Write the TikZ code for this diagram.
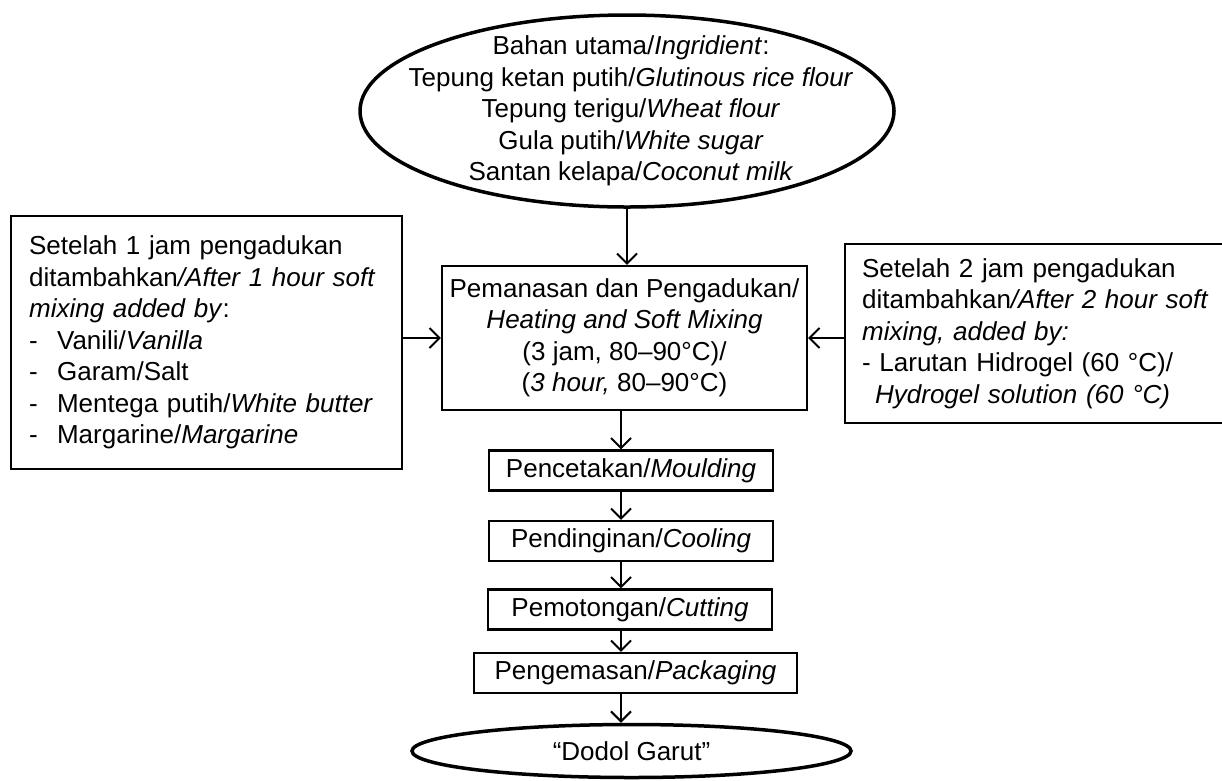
\documentclass[tikz,border=0pt]{standalone}
\usepackage{fontspec}
\setmainfont{Liberation Sans}
\usetikzlibrary{shapes.geometric,arrows.meta}

\begin{document}
\begin{tikzpicture}[
		x=1pt, y=-1pt,
		every node/.style={font=\fontsize{26}{31.5}\selectfont},
		stepbox/.style={draw, line width=2.2pt, minimum width=284pt, minimum height=40pt, inner sep=0pt},
		sidebox/.style={draw, line width=2.2pt, anchor=north west, align=left, inner ysep=0pt},
		oval/.style={draw, ellipse, line width=3.5pt, inner sep=0pt},
		flow/.style={line width=2pt, -{Straight Barb[length=10pt,width=20pt]}}
		]
		\useasboundingbox (0,0) rectangle (1222,780);
		% bahan utama
		\node[oval, minimum width=534pt, minimum height=192pt] (ingr) at (627,111) {};
		\node[align=center] (ingrtext) at (631,111) {Bahan utama/\textit{Ingridient}:\\
			Tepung ketan putih/\textit{Glutinous rice flour}\\
			Tepung terigu/\textit{Wheat flour}\\
			Gula putih/\textit{White sugar}\\
			Santan kelapa/\textit{Coconut milk}};
		% proses utama
		\node[draw, line width=2.2pt, minimum width=365pt, minimum height=144pt, inner sep=0pt, align=center] (heat) at (624.5,338)
			{Pemanasan dan Pengadukan/\\ \textit{Heating and Soft Mixing}\\ (3 jam, 80--90°C)/\\ (\textit{3 hour,} 80--90°C)};
		% tambahan
		\node[sidebox, text width=355pt, inner xsep=18pt, minimum height=253pt] (after1) at (10,215)
			{Setelah 1 jam pengadukan\\
			ditambahkan\textit{/After 1 hour soft}\\
			\textit{mixing added by}:\\
			\makebox[28pt][l]{-}Vanili/\textit{Vanilla}\\
			\makebox[28pt][l]{-}Garam/Salt\\
			\makebox[28pt][l]{-}Mentega putih/\textit{White butter}\\
			\makebox[28pt][l]{-}Margarine/\textit{Margarine}};
		\node[sidebox, text width=362pt, inner xsep=17pt, minimum height=179pt] (after2) at (844,243)
			{Setelah 2 jam pengadukan\\
			ditambahkan\textit{/After 2 hour soft}\\
			\textit{mixing, added by:}\\
			- Larutan Hidrogel (60 °C)/\\
			\hspace{13pt}\textit{Hydrogel solution (60 °C)}};
		% tahap akhir
		\node[stepbox] (mould) at (631,470.5) {Pencetakan/\textit{Moulding}};
		\node[stepbox] (cool) at (631,541) {Pendinginan/\textit{Cooling}};
		\node[stepbox] (cut) at (630,609.5) {Pemotongan/\textit{Cutting}};
		\node[stepbox, minimum width=323pt] (pack) at (635.5,673) {Pengemasan/\textit{Packaging}};
		\node[oval, minimum width=439pt, minimum height=53pt] (dodol) at (631.5,751) {``Dodol Garut''};
		\coordinate (spine) at (621,0);
		% panah
		\draw[flow] (ingr.south) -- (ingr.south |- heat.north);
		\draw[flow] (after1.east |- heat.west) -- (heat.west);
		\draw[flow] (after2.west |- heat.east) -- (heat.east);
		\draw[flow] (heat.south -| spine) -- (mould.north -| spine);
		\draw[flow] (mould.south -| spine) -- (cool.north -| spine);
		\draw[flow] (cool.south -| spine) -- (cut.north -| spine);
		\draw[flow] (cut.south -| spine) -- (pack.north -| spine);
		\draw[flow] (pack.south -| spine) -- (dodol.north -| spine);
\end{tikzpicture}
\end{document}
